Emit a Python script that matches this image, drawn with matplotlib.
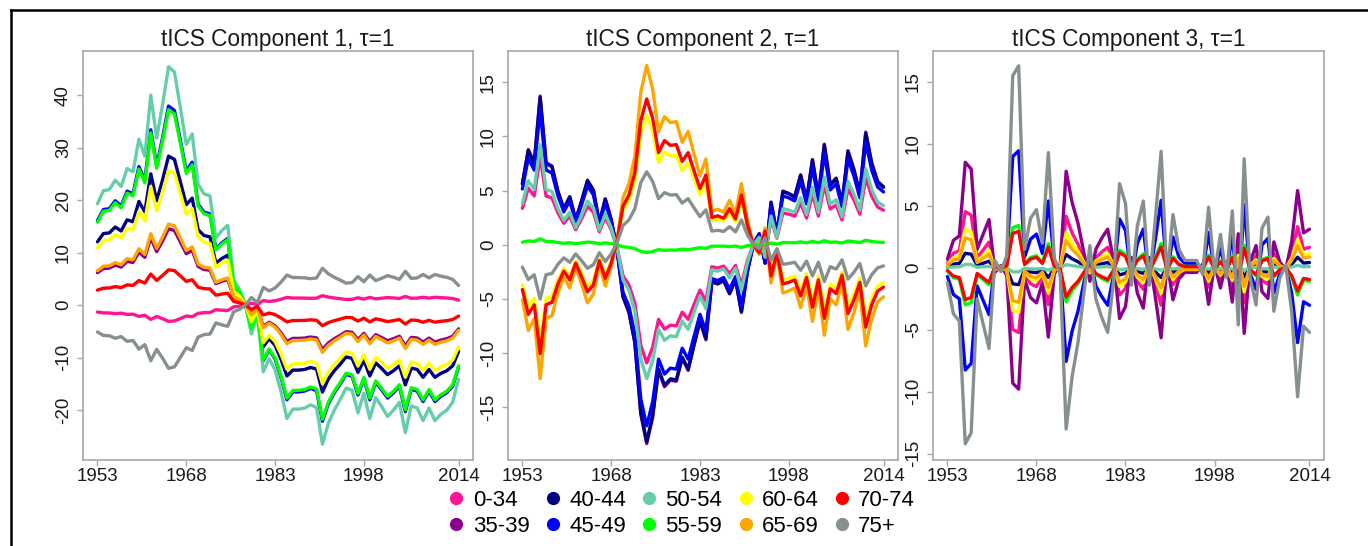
"""Age-group patterns of the first three tICS components (tau = 1).

Three side-by-side line charts, one per component, sharing a legend of
the ten age groups underneath.
"""

import matplotlib.pyplot as plt
import numpy as np
from matplotlib.lines import Line2D

plt.rcParams["font.family"] = ["Liberation Sans", "DejaVu Sans"]
plt.rcParams["axes.unicode_minus"] = False  # plain hyphen minus, as in R

YEARS = list(range(1953, 2015))
X_TICKS = [1953, 1968, 1983, 1998, 2014]

AGE_GROUPS = ["0-34", "35-39", "40-44", "45-49", "50-54",
              "55-59", "60-64", "65-69", "70-74", "75+"]
GROUP_COLORS = ["#FF1493", "#8B008B", "#000080", "#0000FF", "#66CDAA",
                "#00FF00", "#FFFF00", "#FFA500", "#FF0000", "#878F8F"]

BOX_COLOR = "#A8A8A8"  # light grey plot frame and ticks
TEXT_COLOR = "#1A1A1A"

# Every component is rank one: a yearly score times one weight per age
# group. The score is the curve with the widest swing.

# Component 1: score is the 50-54 curve
COMP1_SCORE = [19.3, 21.8, 22.0, 23.8, 22.6, 26.0, 25.4, 31.6, 28.4, 40.0,
               31.8, 38.2, 45.4, 44.4, 37.6, 30.6, 32.6, 23.0, 21.2, 20.8,
               12.8, 14.2, 15.2, 4.8, 3.0, 0.0, -5.5, -1.8, -12.7, -10.2,
               -12.3, -16.5, -21.6, -19.8, -19.8, -19.6, -19.0, -19.5, -26.5, -22.5,
               -20.0, -18.0, -15.8, -16.2, -20.5, -16.8, -21.6, -17.6, -19.3, -21.2,
               -20.0, -18.5, -24.3, -19.2, -19.6, -22.0, -19.6, -22.0, -20.8, -20.0,
               -18.5, -14.1]
COMP1_WEIGHTS = [-0.068, 0.32, 0.625, 0.835, 1.0, 0.82, 0.565, 0.34, 0.148, -0.265]

# Component 2: score is the 40-44 curve
COMP2_SCORE = [5.6, 8.7, 7.5, 13.6, 7.5, 7.2, 4.9, 3.3, 4.4, 2.3,
               4.0, 5.9, 5.0, 2.0, 4.2, 2.3, -0.5, -4.8, -6.2, -9.0,
               -15.5, -18.2, -15.8, -11.5, -13.0, -12.4, -12.5, -10.4, -11.5, -9.2,
               -7.0, -8.7, -3.4, -3.6, -3.3, -4.5, -3.2, -6.2, -2.5, 0.0,
               1.0, -1.7, 3.9, 1.0, 4.9, 4.7, 4.4, 6.4, 4.1, 7.8,
               4.4, 9.2, 5.5, 6.1, 3.8, 8.6, 6.9, 4.7, 10.3, 7.5,
               5.8, 5.3]
COMP2_WEIGHTS = [0.6, 1.01, 1.0, 0.92, 0.68, 0.04, -0.66, -0.91, -0.74, -0.37]

# Component 3: score is the 75+ curve
COMP3_SCORE = [-1.2, -3.7, -4.3, -14.2, -13.3, -2.5, -4.5, -6.5, 0.6, -0.3,
               1.0, 15.5, 16.3, 1.5, 4.0, 4.7, 2.0, 9.3, 0.8, -0.5,
               -13.0, -8.8, -6.0, -2.0, 1.8, -2.5, -4.0, -5.2, -1.0, 6.8,
               5.2, -1.4, 3.4, 5.4, -1.4, 3.8, 9.4, -0.8, 4.3, 1.5,
               0.6, 0.6, 0.6, -0.5, 4.9, -0.5, 2.7, -0.8, 4.6, -4.6,
               8.8, -0.8, -3.0, 3.2, 4.1, -3.5, -0.8, 0.2, -3.5, -10.4,
               -4.7, -5.2]
COMP3_WEIGHTS = [-0.32, -0.6, -0.083, 0.58, -0.02, 0.21, -0.22, -0.17, 0.18, 1.0]


def draw_component(ax, title, score, weights, ylim, yticks):
    """Draw one component panel: one line per age group."""
    curves = np.outer(weights, score)
    for curve, color in zip(curves, GROUP_COLORS):
        ax.plot(YEARS, curve, color=color, linewidth=2.4,
                solid_joinstyle="round", solid_capstyle="round")

    ax.set_xlim(1950.56, 2016.44)
    ax.set_ylim(*ylim)
    ax.set_xticks(X_TICKS)
    ax.set_yticks(yticks)
    ax.set_title(title, fontsize=16.3, pad=3.5, color=TEXT_COLOR)

    for spine in ax.spines.values():
        spine.set_color(BOX_COLOR)
        spine.set_linewidth(1.2)
    ax.tick_params(axis="both", colors=BOX_COLOR, labelcolor=TEXT_COLOR,
                   labelsize=13.5, length=4, width=1)
    ax.tick_params(axis="x", pad=1.5)
    ax.tick_params(axis="y", labelrotation=90, pad=4)
    for label in ax.get_yticklabels():
        label.set_verticalalignment("center")


fig = plt.figure(figsize=(13.68, 5.46), dpi=100)

# Axes boxes placed to match the three panels
ax1 = fig.add_axes([0.0607, 0.1575, 0.2851, 0.7491])
ax2 = fig.add_axes([0.3713, 0.1575, 0.2851, 0.7491])
ax3 = fig.add_axes([0.6820, 0.1575, 0.2858, 0.7491])

draw_component(ax1, "tICS Component 1, \u03c4=1", COMP1_SCORE, COMP1_WEIGHTS,
               (-29.5, 48.4), [-20, -10, 0, 10, 20, 30, 40])
draw_component(ax2, "tICS Component 2, \u03c4=1", COMP2_SCORE, COMP2_WEIGHTS,
               (-19.9, 17.9), [-15, -10, -5, 0, 5, 10, 15])
draw_component(ax3, "tICS Component 3, \u03c4=1", COMP3_SCORE, COMP3_WEIGHTS,
               (-15.5, 17.5), [-15, -10, -5, 0, 5, 10, 15])

# Shared legend with round markers, two rows of five
handles = [
    Line2D([], [], marker="o", linestyle="none", markersize=8.5,
           markerfacecolor=color, markeredgecolor=color)
    for color in GROUP_COLORS
]
fig.legend(handles, AGE_GROUPS, loc="upper center", bbox_to_anchor=(0.4985, 0.135),
           ncol=5, frameon=False, fontsize=16, handlelength=0.7,
           handletextpad=0.38, columnspacing=0.7, labelspacing=0.22,
           borderpad=0.3)

# Black frame along the top and left of the figure
fig.add_artist(Line2D([0.0077, 1.0], [0.9808, 0.9808], color="black", linewidth=1.8))
fig.add_artist(Line2D([0.0077, 0.0077], [0.0, 0.9808], color="black", linewidth=1.8))

fig.savefig("out.png", dpi=100)
plt.close(fig)
